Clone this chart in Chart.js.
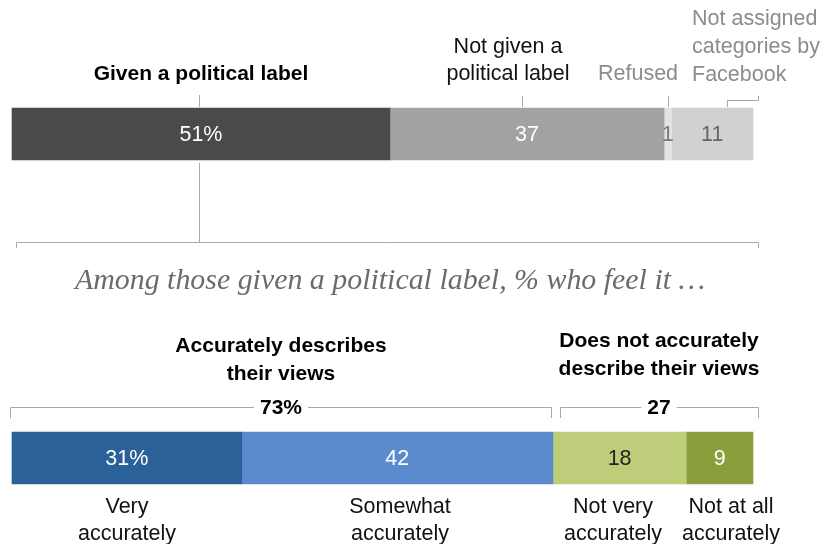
<!DOCTYPE html>
<html>
<head>
<meta charset="utf-8">
<script src="https://cdn.jsdelivr.net/npm/chart.js@4.4.0/dist/chart.umd.min.js"></script>
<style>
  html, body { margin: 0; padding: 0; background: #fff; }
</style>
</head>
<body>
<canvas id="myChart" width="838" height="544"></canvas>
<script>
// two rows of stacked bars: all users, then those given a political label
const rows = ['All users', 'Given a political label'];
const topNames = ['Given a political label', 'Not given a political label', 'Refused', 'Not assigned categories by Facebook'];
const bottomNames = ['Very accurately', 'Somewhat accurately', 'Not very accurately', 'Not at all accurately'];
const topValues = [51, 37, 1, 11];
const bottomValues = [31, 42, 18, 9];
const topLabels = ['51%', '37', '1', '11'];
const bottomLabels = ['31%', '42', '18', '9'];
const accurateTotal = '73%';
const notAccurateTotal = '27';

const topColors = ['#4a4a4a', '#a2a2a2', '#e4e4e4', '#d1d1d1'];
const bottomColors = ['#2a6199', '#5c8bcd', '#bdcd7a', '#8a9f3b'];
const topTextColors = ['#ffffff', '#ffffff', '#7a7a7a', '#666666'];
const bottomTextColors = ['#ffffff', '#ffffff', '#222222', '#ffffff'];

const SANS = '"Liberation Sans", Arial, sans-serif';
const LINE = '#a8a8a8';

const datasets = topValues.map(function(v, i) {
  return {
    label: topNames[i] + ' / ' + bottomNames[i],
    data: [topValues[i], bottomValues[i]],
    backgroundColor: [topColors[i], bottomColors[i]],
    textColor: [topTextColors[i], bottomTextColors[i]],
    valueText: [topLabels[i], bottomLabels[i]],
    borderWidth: 0,
    barThickness: 52,
    clip: false
  };
});

function txt(ctx, s, x, y, font, color, align) {
  ctx.font = font;
  ctx.fillStyle = color;
  ctx.textAlign = align || 'center';
  ctx.textBaseline = 'alphabetic';
  ctx.fillText(s, x, y);
}

function path(ctx, pts) {
  ctx.beginPath();
  ctx.moveTo(pts[0][0], pts[0][1]);
  for (let i = 1; i < pts.length; i++) ctx.lineTo(pts[i][0], pts[i][1]);
  ctx.stroke();
}

const annotations = {
  id: 'annotations',
  afterDatasetsDraw(chart) {
    const ctx = chart.ctx;
    ctx.save();

    // numbers inside the bars
    chart.data.datasets.forEach(function(ds, i) {
      chart.getDatasetMeta(i).data.forEach(function(bar, j) {
        ctx.font = '21.5px ' + SANS;
        ctx.fillStyle = ds.textColor[j];
        ctx.textAlign = 'center';
        ctx.textBaseline = 'middle';
        ctx.fillText(ds.valueText[j], (bar.x + bar.base) / 2, bar.y + 1);
      });
    });

    // connector lines
    ctx.strokeStyle = LINE;
    ctx.lineWidth = 1;
    path(ctx, [[199.5, 95], [199.5, 107]]);
    path(ctx, [[522.5, 96], [522.5, 107]]);
    path(ctx, [[668.5, 96], [668.5, 107]]);
    path(ctx, [[727.5, 107], [727.5, 100.5], [758.5, 100.5], [758.5, 96]]);
    path(ctx, [[199.5, 163], [199.5, 242.5]]);
    path(ctx, [[16.5, 248], [16.5, 242.5], [758.5, 242.5], [758.5, 248]]);
    path(ctx, [[10.5, 418], [10.5, 407.5], [551.5, 407.5], [551.5, 418]]);
    path(ctx, [[560.5, 418], [560.5, 407.5], [758.5, 407.5], [758.5, 418]]);

    // top labels
    const reg = '21.5px ' + SANS;
    const bold = 'bold 21px ' + SANS;
    txt(ctx, 'Given a political label', 201, 80, bold, '#000');
    txt(ctx, 'Not given a', 508, 53, reg, '#111');
    txt(ctx, 'political label', 508, 80, reg, '#111');
    txt(ctx, 'Refused', 638, 80, reg, '#8c8c8c');
    txt(ctx, 'Not assigned', 692, 25, reg, '#8c8c8c', 'left');
    txt(ctx, 'categories by', 692, 53, reg, '#8c8c8c', 'left');
    txt(ctx, 'Facebook', 692, 81, reg, '#8c8c8c', 'left');

    // subtitle
    const sub = 'Among those given a political label, % who feel it \u2026';
    ctx.font = 'italic 100px "Liberation Serif", Georgia, serif';
    const size = 100 * 630 / ctx.measureText(sub).width;
    txt(ctx, sub, 390, 289, 'italic ' + size.toFixed(1) + 'px "Liberation Serif", Georgia, serif', '#6b6b6b');

    // group headers
    txt(ctx, 'Accurately describes', 281, 352, bold, '#000');
    txt(ctx, 'their views', 281, 380, bold, '#000');
    txt(ctx, 'Does not accurately', 659, 347, bold, '#000');
    txt(ctx, 'describe their views', 659, 375, bold, '#000');

    ctx.font = bold;
    [[accurateTotal, 281], [notAccurateTotal, 659]].forEach(function(t) {
      const w = ctx.measureText(t[0]).width;
      ctx.fillStyle = '#fff';
      ctx.fillRect(t[1] - w / 2 - 6, 396, w + 12, 22);
      txt(ctx, t[0], t[1], 414, bold, '#000');
    });

    // category names under the bottom bar
    txt(ctx, 'Very', 127, 513, reg, '#111');
    txt(ctx, 'accurately', 127, 540, reg, '#111');
    txt(ctx, 'Somewhat', 400, 513, reg, '#111');
    txt(ctx, 'accurately', 400, 540, reg, '#111');
    txt(ctx, 'Not very', 613, 513, reg, '#111');
    txt(ctx, 'accurately', 613, 540, reg, '#111');
    txt(ctx, 'Not at all', 731, 513, reg, '#111');
    txt(ctx, 'accurately', 731, 540, reg, '#111');

    ctx.restore();
  }
};

const ctx = document.getElementById('myChart').getContext('2d');
new Chart(ctx, {
  type: 'bar',
  data: { labels: rows, datasets: datasets },
  options: {
    indexAxis: 'y',
    responsive: false,
    animation: false,
    layout: { padding: { left: 12, right: 85, top: 134, bottom: 86 } },
    scales: {
      x: { stacked: true, min: 0, max: 100, display: false },
      y: { stacked: true, display: false, offset: false }
    },
    plugins: {
      legend: { display: false },
      tooltip: { enabled: false }
    }
  },
  plugins: [annotations]
});
</script>
</body>
</html>
